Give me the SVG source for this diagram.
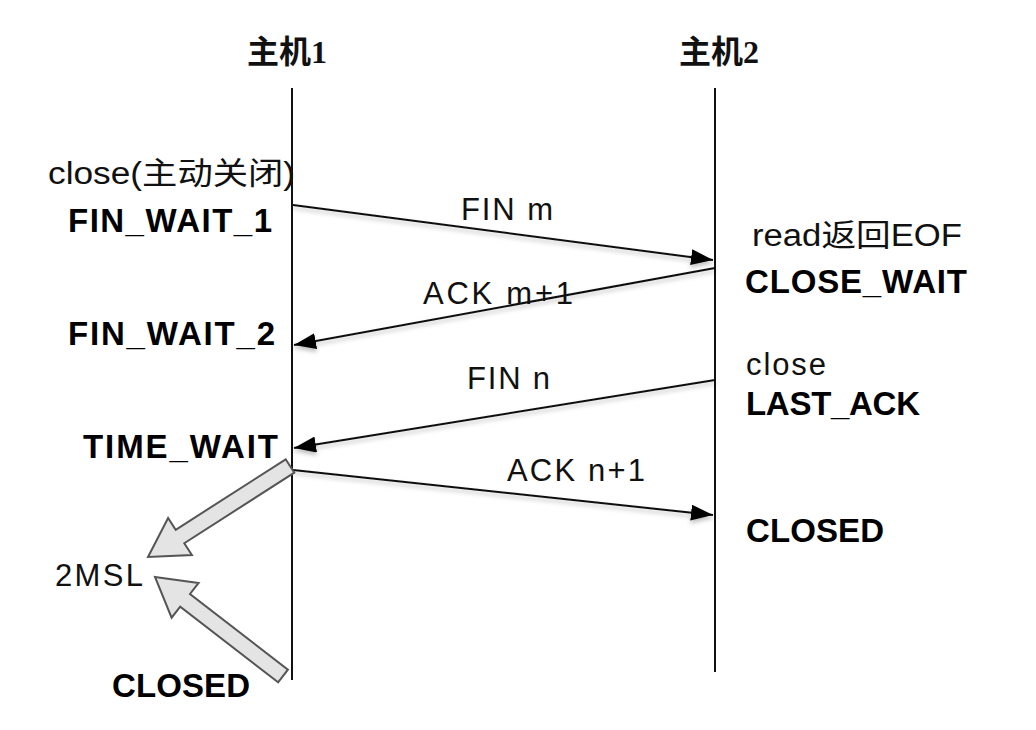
<svg xmlns="http://www.w3.org/2000/svg" width="1036" height="730" viewBox="0 0 1036 730">
<style>
.host{font-family:"Liberation Serif","Noto Sans CJK SC",serif;font-size:32px;font-weight:bold;fill:#111}
.reg{font-family:"Liberation Sans","Noto Sans CJK SC",sans-serif;font-size:31px;fill:#111}
.bold{font-family:"Liberation Sans","Noto Sans CJK SC",sans-serif;font-size:33px;font-weight:bold;fill:#000}
.life{stroke:#111;stroke-width:2;fill:none}
.msg{stroke:#111;stroke-width:2;fill:none;marker-end:url(#ah)}
.big{fill:#e4e4e4;stroke:#555;stroke-width:2;stroke-linejoin:miter}
</style>
<defs>
<marker id="ah" viewBox="0 0 22 16" refX="22" refY="8" markerWidth="22" markerHeight="16" markerUnits="userSpaceOnUse" orient="auto">
<path d="M0,0 L22,8 L0,16 Z" fill="#000"/>
</marker>
<filter id="sh" x="-5%" y="-50%" width="110%" height="200%">
<feDropShadow dx="0" dy="3" stdDeviation="2" flood-color="#000" flood-opacity="0.25"/>
</filter>
</defs>
<rect width="1036" height="730" fill="#fff"/>
<g id="host1">
<text class="host" x="287" y="63" text-anchor="middle">主机1</text>
<line class="life" x1="292" y1="88" x2="292" y2="680"/>
</g>
<g id="host2">
<text class="host" x="719" y="63" text-anchor="middle">主机2</text>
<line class="life" x1="715" y1="88" x2="715" y2="672"/>
</g>
<g id="labels-left">
<text class="reg" x="48" y="184" textLength="247" lengthAdjust="spacingAndGlyphs">close(主动关闭)</text>
<text class="bold" x="68" y="232" textLength="204">FIN_WAIT_1</text>
<text class="bold" x="68" y="345" textLength="207">FIN_WAIT_2</text>
<text class="bold" x="83" y="458" textLength="195">TIME_WAIT</text>
<text class="reg" x="55" y="586" textLength="88">2MSL</text>
<text class="bold" x="112" y="697" textLength="138">CLOSED</text>
</g>
<g id="labels-right">
<text class="reg" x="752" y="246" textLength="210" lengthAdjust="spacingAndGlyphs">read返回EOF</text>
<text class="bold" x="745" y="293" textLength="222">CLOSE_WAIT</text>
<text class="reg" x="746" y="375" textLength="80">close</text>
<text class="bold" x="746" y="415" textLength="174">LAST_ACK</text>
<text class="bold" x="746" y="542" textLength="138">CLOSED</text>
</g>
<g id="connectors">
<g filter="url(#sh)">
<line class="msg" x1="293" y1="205" x2="713" y2="260"/>
<line class="msg" x1="715" y1="268" x2="294" y2="345"/>
<line class="msg" x1="715" y1="380" x2="294" y2="448"/>
<line class="msg" x1="293" y1="470" x2="713" y2="515"/>
</g>
<polygon class="big" points="285.7,459.3 175.7,529.8 168.1,518.0 148,557 191.9,555.0 184.3,543.2 294.3,472.7"/>
<polygon class="big" points="278.1,682.3 180.2,606.6 171.6,617.7 155,577 198.6,582.9 190.0,594.0 287.9,669.7"/>
</g>
<g id="msg-labels">
<text class="reg" x="461" y="220" textLength="92">FIN m</text>
<text class="reg" x="423" y="304" textLength="150">ACK m+1</text>
<text class="reg" x="467" y="389" textLength="83">FIN n</text>
<text class="reg" x="507" y="481" textLength="138">ACK n+1</text>
</g>
</svg>
